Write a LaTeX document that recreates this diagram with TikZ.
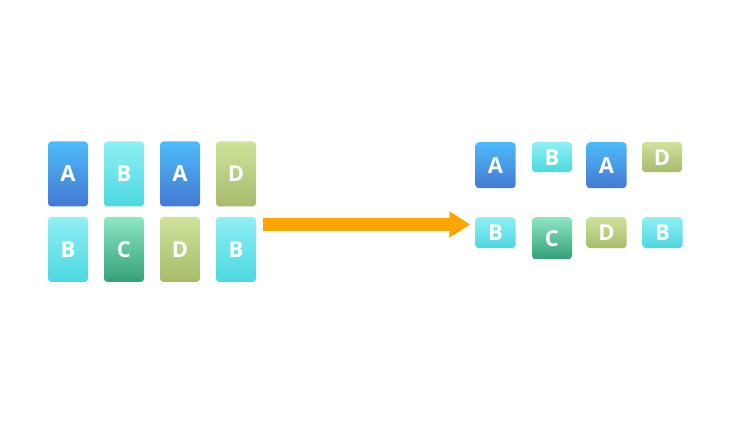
\documentclass[tikz,border=0pt]{standalone}
\usepackage{fontspec}
\setmainfont{Open Sans}
\usetikzlibrary{arrows.meta}
\definecolor{Atop}{HTML}{4DBBF9}\definecolor{Abot}{HTML}{4479D3}
\definecolor{Btop}{HTML}{8FEFF4}\definecolor{Bbot}{HTML}{4CD7E0}
\definecolor{Ctop}{HTML}{8DE6C2}\definecolor{Cbot}{HTML}{33A077}
\definecolor{Dtop}{HTML}{CEE29C}\definecolor{Dbot}{HTML}{A7BB6A}
\definecolor{arr}{HTML}{FFA500}
\tikzset{
  card/.style={rounded corners=3.5pt, inner sep=0pt, text=white, font=\fontsize{22}{22}\selectfont\bfseries, minimum width=40pt},
  cA/.style={card, top color=Atop, bottom color=Abot},
  cB/.style={card, top color=Btop, bottom color=Bbot},
  cC/.style={card, top color=Ctop, bottom color=Cbot},
  cD/.style={card, top color=Dtop, bottom color=Dbot},
  tall/.style={minimum height=65pt},
}
\begin{document}
\begin{tikzpicture}[x=1pt,y=-1pt]
\useasboundingbox (0,0) rectangle (750,430);
% left
\node[cA,tall] (l1) at (68,174) {A};
\node[cB,tall] (l2) at (124,174) {B};
\node[cA,tall] (l3) at (180,174) {A};
\node[cD,tall] (l4) at (236,174) {D};
\node[cB,tall] (l5) at (68,249.5) {B};
\node[cC,tall] (l6) at (124,249.5) {C};
\node[cD,tall] (l7) at (180,249.5) {D};
\node[cB,tall] (l8) at (236,249.5) {B};
% right
\node[cA,minimum height=46pt,anchor=north] (r1) at (495.5,142) {A};
\node[cB,minimum height=30pt,anchor=north] (r2) at (552,142) {B};
\node[cA,minimum height=46pt,anchor=north] (r3) at (606.5,142) {A};
\node[cD,minimum height=30pt,anchor=north] (r4) at (662,142) {D};
\node[cB,minimum height=31pt,anchor=north] (r5) at (495.5,217) {B};
\node[cC,minimum height=42pt,anchor=north] (r6) at (552,217) {C};
\node[cD,minimum height=31pt,anchor=north] (r7) at (606.5,217) {D};
\node[cB,minimum height=31pt,anchor=north] (r8) at (662.5,217) {B};
% arrow
\coordinate (as) at (263,224.5);
\draw[arr, line width=13pt, -{Triangle[length=21pt,width=25pt]}, shorten >=5pt] (as) -- (as -| r5.west);
\end{tikzpicture}
\end{document}
